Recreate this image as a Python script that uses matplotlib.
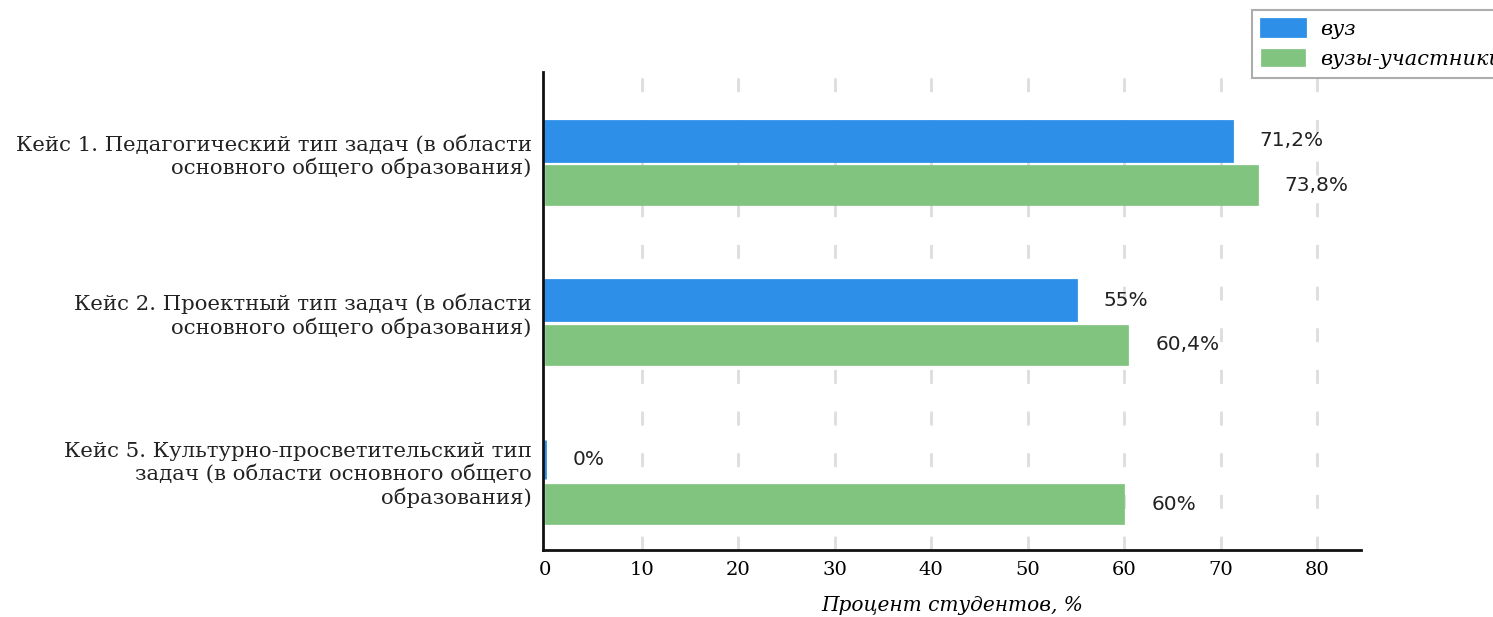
import numpy as np
import matplotlib
matplotlib.use("Agg")
import matplotlib.pyplot as plt

# -----------------------------------
# DATA
# -----------------------------------
categories = [
    "Кейс 1. Педагогический тип задач (в области\nосновного общего образования)",
    "Кейс 2. Проектный тип задач (в области\nосновного общего образования)",
    "Кейс 5. Культурно-просветительский тип\nзадач (в области основного общего\nобразования)",
]
vuz = [71.2, 55, 0]
vuz_all = [73.8, 60.4, 60]
vuz_labels = ["71,2%", "55%", "0%"]
vuz_all_labels = ["73,8%", "60,4%", "60%"]
series_names = ["вуз", "вузы-участники"]
xticks = [0, 10, 20, 30, 40, 50, 60, 70, 80]

# -----------------------------------
# PLOT
# -----------------------------------
blue = "#2e8fe8"
green = "#80c47f"

fig = plt.figure(figsize=(14.93, 6.17), dpi=100)
ax = fig.add_axes([0.3635, 0.108, 0.548, 0.775])

y = np.arange(len(categories))
h = 0.25
off = 0.14

b1 = ax.barh(y - off, vuz, height=h, color=blue, edgecolor=blue, linewidth=2,
             label=series_names[0])
b2 = ax.barh(y + off, vuz_all, height=h, color=green, edgecolor=green, linewidth=0.5,
             label=series_names[1])

for yi, v, lab in zip(y - off, vuz, vuz_labels):
    ax.text(v + 2.8, yi, lab, va="center", ha="left", fontsize=14.5, color="#222222", family="DejaVu Sans")
for yi, v, lab in zip(y + off, vuz_all, vuz_all_labels):
    ax.text(v + 2.8, yi, lab, va="center", ha="left", fontsize=14.5, color="#222222", family="DejaVu Sans")

# small negative start so the zero bar stays visible next to the spine
ax.set_xlim(-0.25, 84.5)
ax.set_ylim(2.43, -0.57)
ax.set_xticks(xticks)
# category labels sit a little above the group centre
ax.set_yticks(y - 0.065)
ax.set_yticklabels(categories, family="DejaVu Serif", fontsize=15.3, color="#222222", ha="right",
                   linespacing=1.2)
for t in ax.get_xticklabels():
    t.set_family("DejaVu Serif")
    t.set_fontsize(14)
ax.tick_params(axis="x", length=0, pad=8)
ax.tick_params(axis="y", length=0, pad=8)

ax.xaxis.grid(True, linestyle=(0, (5, 10)), color="#dddddd", linewidth=2)
ax.get_xgridlines()[0].set_visible(False)
ax.set_axisbelow(True)

for s in ["top", "right"]:
    ax.spines[s].set_visible(False)
for s in ["left", "bottom"]:
    ax.spines[s].set_linewidth(2)
    ax.spines[s].set_color("#111111")

ax.set_xlabel("Процент студентов, %", family="DejaVu Serif", style="italic", fontsize=14.5, labelpad=12)

leg = fig.legend(handles=[b1, b2], loc="upper left", bbox_to_anchor=(0.8386, 0.984),
                 borderaxespad=0,
                 prop={"family": "DejaVu Serif", "style": "italic", "size": 15},
                 fancybox=False, edgecolor="#999999", handlelength=2.1, handleheight=0.85,
                 handletextpad=0.7, borderpad=0.45, labelspacing=0.5)
leg.get_frame().set_linewidth(1.5)

plt.savefig("out.png", dpi=100)
plt.close()
